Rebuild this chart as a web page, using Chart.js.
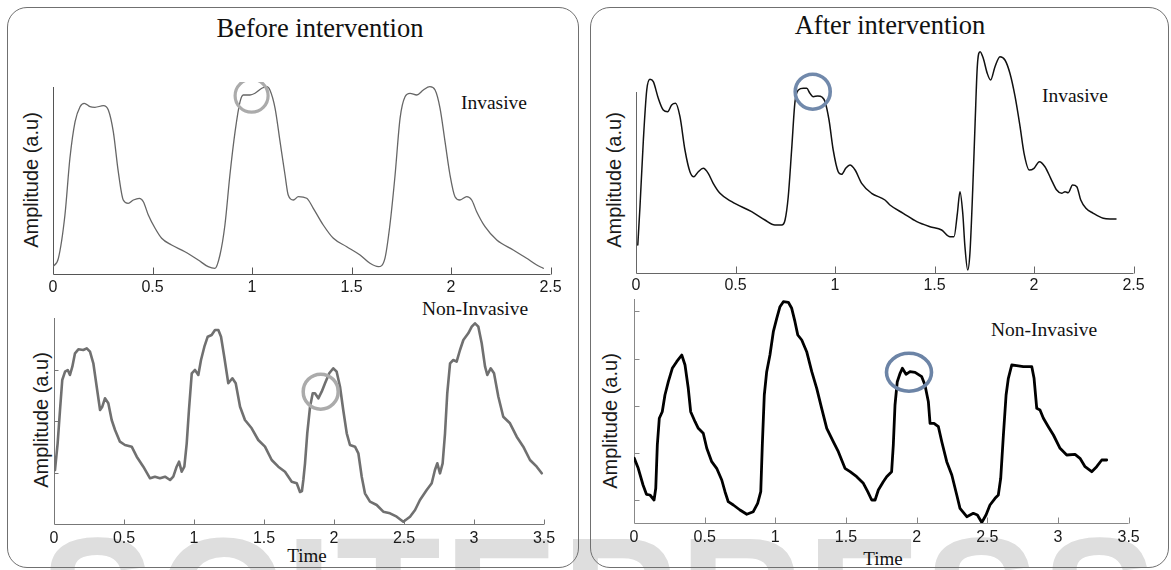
<!DOCTYPE html>
<html>
<head>
<meta charset="utf-8">
<script src="https://cdn.jsdelivr.net/npm/chart.js@4.4.1/dist/chart.umd.min.js"></script>
<style>
  html, body { margin: 0; padding: 0; background: #fff; }
  #wrap { position: relative; width: 1171px; height: 570px; overflow: hidden; background: #fff; }
  .panel { position: absolute; border: 1px solid #707070; border-radius: 20px; box-sizing: border-box; }
  canvas { position: absolute; }
  .lbl { position: absolute; transform: translate(-50%, -50%); white-space: nowrap; line-height: 1; color: #111; }
  .serif { font-family: "Liberation Serif", "Times New Roman", serif; }
  .sans { font-family: "Liberation Sans", Arial, sans-serif; }
  .ytitle { transform: translate(-50%, -50%) rotate(-90deg); font-size: 20px; color: #1a1a1a; }
  #wm { position: absolute; left: 40px; top: 512px; font-family: "Liberation Sans", Arial, sans-serif; font-weight: bold;
        font-size: 172px; line-height: 1; color: #dedede; letter-spacing: 3px; white-space: nowrap; }
</style>
</head>
<body>
<div id="wrap">
  <div id="wm">SCITEPRESS</div>
  <div class="panel" style="left:7px; top:7px; width:572px; height:561px;"></div>
  <div class="panel" style="left:590px; top:7px; width:579px; height:561px;"></div>

  <div class="lbl serif" style="left:320px; top:28px; font-size:26.5px;">Before intervention</div>
  <div class="lbl serif" style="left:890px; top:25px; font-size:26.5px;">After intervention</div>

  <div class="lbl serif" style="left:494px; top:103px; font-size:19.5px;">Invasive</div>
  <div class="lbl serif" style="left:1075px; top:96px; font-size:19.5px;">Invasive</div>
  <div class="lbl serif" style="left:475px; top:309px; font-size:19.5px;">Non-Invasive</div>
  <div class="lbl serif" style="left:1044px; top:330px; font-size:19.5px;">Non-Invasive</div>
  <div class="lbl serif" style="left:307px; top:555px; font-size:19px;">Time</div>
  <div class="lbl serif" style="left:883px; top:558px; font-size:19px;">Time</div>

  <div class="lbl sans ytitle" style="left:31px; top:180px;">Amplitude (a.u)</div>
  <div class="lbl sans ytitle" style="left:41px; top:420px;">Amplitude (a.u)</div>
  <div class="lbl sans ytitle" style="left:614px; top:180px;">Amplitude (a.u)</div>
  <div class="lbl sans ytitle" style="left:610px; top:421px;">Amplitude (a.u)</div>

  <canvas id="c1"></canvas>
  <canvas id="c2"></canvas>
  <canvas id="c3"></canvas>
  <canvas id="c4"></canvas>
</div>
<script>
// ---------------- DATA ----------------
// Before intervention – invasive (time s, amplitude a.u.)
const beforeInvTime = [0.000,0.027,0.060,0.085,0.111,0.136,0.157,0.186,0.211,0.253,0.278,0.303,0.328,0.353,0.378,0.404,0.434,0.454,0.479,0.513,0.546,0.596,0.663,0.730,0.780,0.814,0.839,0.864,0.889,0.915,0.940,0.956,0.990,1.015,1.049,1.074,1.090,1.116,1.141,1.166,1.182,1.208,1.233,1.275,1.308,1.358,1.409,1.476,1.543,1.593,1.635,1.668,1.693,1.719,1.744,1.769,1.794,1.828,1.861,1.894,1.920,1.945,1.970,1.995,2.020,2.045,2.079,2.104,2.129,2.171,2.230,2.313,2.380,2.431,2.464];
const beforeInvAmp  = [7.3,15.7,59,115.7,152.3,167.3,170.7,167.3,166.7,168.3,164,142.3,102.3,74,70.7,74,75.7,72.3,59,45.7,35.7,29,22.3,14,7.3,5.7,19,49,99,142.3,172.3,179,179,180.7,185.7,187.3,184,165.7,132.3,99,79,74,77.3,75.7,65.7,49,35.7,27.3,19,10.7,7.3,15.7,49,99,155.7,177.3,180.7,179,184,187.3,184,165.7,132.3,99,77.3,74,77.3,74,62.3,47.3,34,24,15.7,9,5.7];

// Before intervention – non-invasive
const beforeNonTime = [0.007,0.026,0.043,0.059,0.079,0.098,0.114,0.131,0.150,0.174,0.209,0.234,0.257,0.281,0.305,0.329,0.345,0.364,0.388,0.412,0.436,0.471,0.507,0.555,0.591,0.638,0.686,0.721,0.757,0.793,0.829,0.852,0.876,0.893,0.912,0.931,0.948,0.964,0.984,1.007,1.031,1.050,1.074,1.098,1.126,1.150,1.174,1.193,1.216,1.245,1.274,1.298,1.329,1.364,1.412,1.459,1.507,1.555,1.602,1.650,1.698,1.734,1.757,1.771,1.781,1.793,1.809,1.829,1.848,1.864,1.888,1.912,1.936,1.966,1.995,2.019,2.043,2.066,2.091,2.114,2.150,2.174,2.198,2.221,2.257,2.305,2.352,2.400,2.448,2.495,2.543,2.579,2.614,2.662,2.698,2.721,2.738,2.757,2.776,2.793,2.809,2.829,2.852,2.876,2.900,2.924,2.959,2.984,3.007,3.031,3.055,3.079,3.095,3.119,3.143,3.174,3.209,3.257,3.305,3.352,3.400,3.448,3.484];
const beforeNonAmp  = [54,80.7,114,144,152.3,154,149,157.3,170.7,174.7,174,175.7,172.3,160.7,137.3,114,117.3,125.7,120.7,104,94,82.3,79,77.3,67.3,57.3,45.7,47.3,45.7,47.3,44,47.3,57.3,62.3,52.3,57.3,80.7,114,150.7,154,149,164,177.3,187.3,189,194,194,187.3,167.3,140.7,145.7,140.7,117.3,104,95.7,84,77.3,64,57.3,52.3,42.3,40.7,32,33,44,60.7,90.7,117.3,130.7,130.7,125.7,132.3,140.7,150.7,155.7,152.3,137.3,114,90.7,79,77.3,70.7,47.3,30.7,22.3,19,12.3,10.7,7.3,2.3,7.3,14,24,34,40.7,54,60.7,50.7,60.7,90.7,130.7,160.7,164,162.3,174,184,190.7,197.3,200.7,197.3,180.7,157.3,149,155.7,150.7,127.3,107.3,100.7,87.3,77.3,64,57.3,50.7];
const beforeNonYTicks = [51.5,103,154.5];

// After intervention – invasive
const afterInvTime = [0.009,0.020,0.037,0.054,0.070,0.087,0.112,0.137,0.159,0.179,0.199,0.221,0.246,0.271,0.291,0.313,0.338,0.363,0.388,0.422,0.481,0.581,0.648,0.698,0.732,0.749,0.765,0.782,0.799,0.816,0.841,0.858,0.874,0.891,0.913,0.936,0.950,0.970,0.991,1.016,1.033,1.054,1.075,1.101,1.134,1.184,1.251,1.276,1.343,1.411,1.477,1.536,1.578,1.598,1.615,1.628,1.642,1.653,1.667,1.678,1.692,1.704,1.715,1.729,1.745,1.765,1.782,1.804,1.829,1.854,1.879,1.905,1.930,1.950,1.976,2.000,2.027,2.055,2.084,2.114,2.139,2.156,2.172,2.194,2.215,2.235,2.261,2.298,2.348,2.382,2.412];
const afterInvAmp  = [28,66.3,133,183,193.7,191.3,174.7,163,161.3,168,169.7,156.3,123,101.3,96.3,101.3,104.7,99.7,89.7,79.7,71.3,61.3,53,48,48,53,76.3,123,171.3,183,184.7,184.7,179.7,176.3,177,175.7,171.3,153,123,101.3,98.7,104.7,108,103,89.7,79.7,73,68,59.7,51.3,46.3,43,36.3,36.3,59.7,81.3,59.7,26.3,3,19.7,83,149.7,206.3,221.3,214.7,199.7,193,206.3,216.3,213,199.7,176.3,146.3,119.7,103,104.7,111.3,106.3,94.7,83,79.7,81.3,80.3,88,86.3,73,64.7,59.7,54.7,54,54];

// After intervention – non-invasive
const afterNonTime = [0.002,0.030,0.064,0.088,0.113,0.142,0.154,0.165,0.179,0.200,0.219,0.243,0.271,0.302,0.338,0.361,0.384,0.401,0.432,0.455,0.490,0.515,0.550,0.585,0.621,0.644,0.667,0.703,0.750,0.798,0.844,0.875,0.897,0.908,0.922,0.939,0.962,0.986,1.010,1.033,1.057,1.092,1.116,1.139,1.159,1.187,1.222,1.258,1.293,1.328,1.364,1.410,1.446,1.493,1.529,1.576,1.623,1.654,1.682,1.706,1.729,1.764,1.788,1.823,1.835,1.847,1.863,1.883,1.899,1.925,1.953,1.989,2.036,2.059,2.083,2.095,2.123,2.154,2.178,2.213,2.249,2.284,2.307,2.355,2.401,2.430,2.461,2.491,2.519,2.555,2.578,2.595,2.614,2.633,2.649,2.673,2.708,2.755,2.815,2.831,2.850,2.873,2.897,2.932,2.968,3.015,3.062,3.121,3.156,3.192,3.239,3.274,3.310,3.345];
const afterNonAmp  = [64.7,54.7,38,28.7,28,23,34.7,78,104.7,111.3,128,141.3,154.7,161.3,168,158,134.7,111.3,101.3,94.7,89.7,74.7,61.3,54.7,43,31.3,21.3,18,13,8.7,11.3,19.7,31.3,78,128,151.3,168,191.3,204.7,216.3,221.3,220.7,214.7,201.3,188,183,171.3,151.3,134.7,114.7,94.7,81.3,71.3,54.7,51.3,46.3,39.7,31.3,23,23,33,41.3,46.3,51.3,78,118,141.3,149.7,154.7,148.7,151.3,150.7,146.3,138,121.3,99.7,99.7,96.3,81.3,61.3,48,28,14.7,6.3,9.7,8,0.5,8,18,24.7,28,44.7,88,128,144.7,158,157.3,156.3,156.3,144.7,114.7,113,104.7,96.3,88,74.7,68,68.7,64.7,56.3,51.3,56.3,63,63];
const afterNonYTicks = [23.5,70.5,117.5,164.5,211.5];

// highlighted shoulder points (circled in the figure)
const beforeInvMark = [0.998, 178.3];
const beforeNonMark = [1.905, 132.3];
const afterInvMark  = [0.888, 181.3];
const afterNonMark  = [1.946, 150.7];

// ---------------- DRAWING ----------------
const toPts = (t, a) => t.map((v, i) => ({ x: v, y: a[i] }));

const figPlugin = {
  id: 'fig',
  beforeDatasetsDraw(chart, args, o) {
    const { ctx, scales: { x, y } } = chart;
    const r = v => Math.round(v) + 0.5;
    const x0 = r(x.getPixelForValue(0)), x1 = x.getPixelForValue(x.max);
    const y0 = r(y.getPixelForValue(0)), yTop = y.getPixelForValue(o.axisTop);
    ctx.save();
    ctx.strokeStyle = o.axisColor; ctx.lineWidth = 1;
    ctx.beginPath();
    ctx.moveTo(x0, yTop); ctx.lineTo(x0, y0); ctx.lineTo(x1, y0);
    x.ticks.forEach(tk => {
      if (tk.value === 0) return;
      const px = r(x.getPixelForValue(tk.value));
      ctx.moveTo(px, y0); ctx.lineTo(px, y0 - o.xTickLen);
    });
    (o.yTicks || []).forEach(v => {
      const py = r(y.getPixelForValue(v));
      ctx.moveTo(x0, py); ctx.lineTo(x0 + o.yTickLen, py);
    });
    ctx.stroke();
    ctx.restore();
  },
  afterDatasetsDraw(chart, args, o) {
    if (!o.mark) return;
    const { ctx, scales: { x, y } } = chart;
    const cx = x.getPixelForValue(o.mark[0]), cy = y.getPixelForValue(o.mark[1]);
    ctx.save();
    ctx.strokeStyle = o.markColor; ctx.lineWidth = o.markWidth;
    ctx.beginPath();
    ctx.ellipse(cx, cy, o.markRx, o.markRy, 0, 0, Math.PI * 2);
    ctx.stroke();
    ctx.restore();
  }
};

const fmtTick = v => String(parseFloat(Number(v).toFixed(2)));

function makeChart(id, box, cfg) {
  const padL = 10, padT = 4, xH = 26, extraR = 24;
  const aw = box.right - box.left, ah = box.bottom - box.top;
  const W = Math.ceil(aw + padL + extraR), H = Math.round(ah + padT + xH);
  const padR = W - padL - aw;
  const cv = document.getElementById(id);
  cv.width = W; cv.height = H;
  cv.style.left = (box.left - padL) + 'px';
  cv.style.top = (box.top - padT) + 'px';
  cv.style.width = W + 'px'; cv.style.height = H + 'px';
  return new Chart(cv, {
    type: 'line',
    data: { datasets: [{
      data: toPts(cfg.t, cfg.a),
      borderColor: cfg.color,
      borderWidth: cfg.width,
      pointRadius: 0,
      fill: false,
      tension: cfg.smooth ? 0.4 : 0,
      cubicInterpolationMode: cfg.smooth ? 'monotone' : 'default',
      borderJoinStyle: 'round',
      borderCapStyle: 'round'
    }]},
    options: {
      responsive: false,
      animation: false,
      events: [],
      layout: { padding: { left: padL, top: padT, right: padR, bottom: 0 } },
      plugins: {
        legend: { display: false },
        tooltip: { enabled: false },
        fig: cfg.fig
      },
      scales: {
        x: {
          type: 'linear', min: 0, max: cfg.xMax,
          grid: { display: false, drawTicks: false },
          border: { display: false },
          ticks: { stepSize: 0.5, padding: cfg.tickPad, color: '#1a1a1a',
                   font: { family: '"Liberation Sans", Arial, sans-serif', size: 16 },
                   maxRotation: 0, autoSkip: false, callback: v => fmtTick(v) },
          afterFit: s => { s.height = xH; }
        },
        y: { type: 'linear', min: 0, max: cfg.yMax, display: false }
      }
    },
    plugins: [figPlugin]
  });
}

makeChart('c1', { left: 53, right: 550.5, top: 86, bottom: 274 }, {
  t: beforeInvTime, a: beforeInvAmp, xMax: 2.5, yMax: 188, color: '#666', width: 1.3, smooth: true, tickPad: 4,
  fig: { axisTop: 187, axisColor: '#555', xTickLen: 7, yTickLen: 0, yTicks: [],
         mark: beforeInvMark, markColor: '#ababab', markWidth: 3.2, markRx: 16.5, markRy: 16.5 }
});
makeChart('c2', { left: 54, right: 544, top: 318, bottom: 524 }, {
  t: beforeNonTime, a: beforeNonAmp, xMax: 3.5, yMax: 206, color: '#707070', width: 2.6, smooth: false, tickPad: 5,
  fig: { axisTop: 206, axisColor: '#777', xTickLen: 5, yTickLen: 4, yTicks: beforeNonYTicks,
         mark: beforeNonMark, markColor: '#ababab', markWidth: 3.5, markRx: 17.5, markRy: 17.5 }
});
makeChart('c3', { left: 636, right: 1133.5, top: 47, bottom: 273 }, {
  t: afterInvTime, a: afterInvAmp, xMax: 2.5, yMax: 226, color: '#111', width: 1.5, smooth: true, tickPad: 3,
  fig: { axisTop: 181, axisColor: '#666', xTickLen: 7, yTickLen: 0, yTicks: [],
         mark: afterInvMark, markColor: '#7189ab', markWidth: 3.6, markRx: 17.5, markRy: 17.5 }
});
makeChart('c4', { left: 634, right: 1128.6, top: 299, bottom: 523 }, {
  t: afterNonTime, a: afterNonAmp, xMax: 3.5, yMax: 224, color: '#000', width: 2.8, smooth: false, tickPad: 5,
  fig: { axisTop: 224, axisColor: '#888', xTickLen: 6, yTickLen: 5, yTicks: afterNonYTicks,
         mark: afterNonMark, markColor: '#6c84a6', markWidth: 3.6, markRx: 22.5, markRy: 19 }
});
</script>
</body>
</html>
